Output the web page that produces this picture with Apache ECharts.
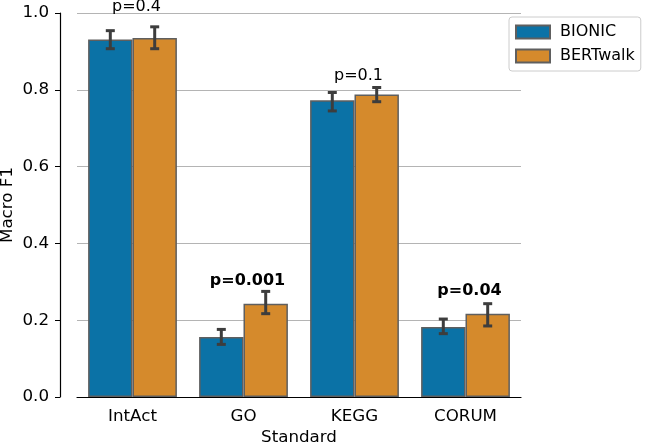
<!DOCTYPE html>
<html>
<head>
<meta charset="utf-8">
<script src="https://cdn.jsdelivr.net/npm/echarts@6/dist/echarts.min.js"></script>
<style>html,body{margin:0;padding:0;background:#fff;}#c{width:648px;height:444px;}</style>
</head>
<body>
<div id="c"></div>
<script>
const categories = ['IntAct', 'GO', 'KEGG', 'CORUM'];
const seriesNames = ['BIONIC', 'BERTwalk'];
const bionic = [0.931, 0.156, 0.773, 0.182];
const bionicLow = [0.907, 0.137, 0.745, 0.165];
const bionicHigh = [0.954, 0.176, 0.793, 0.203];
const bertwalk = [0.935, 0.243, 0.788, 0.217];
const bertwalkLow = [0.907, 0.217, 0.769, 0.185];
const bertwalkHigh = [0.964, 0.275, 0.806, 0.243];
const pLabels = ['p=0.4', 'p=0.001', 'p=0.1', 'p=0.04'];
const pBold = [false, true, false, true];
const pLabelY = [1.016, 0.302, 0.836, 0.277];
const yTicks = [0.0, 0.2, 0.4, 0.6, 0.8, 1.0];

const FONT = 'DejaVu Sans';
const FS = 16;
const AFS = 16.7;
const colors = ['#0b72a6', '#d58a2c'];

const errData = [];
categories.forEach((c, i) => {
  errData.push([i, bionicLow[i], bionicHigh[i], 0]);
  errData.push([i, bertwalkLow[i], bertwalkHigh[i], 1]);
});

function renderErr(params, api) {
  const ci = api.value(0);
  const lo = api.coord([ci, api.value(1)]);
  const hi = api.coord([ci, api.value(2)]);
  const band = api.size([1, 0])[0];
  const s = api.value(3);
  const x = lo[0] + (s === 0 ? -0.2 : 0.2) * band;
  const cap = 4.5;
  const st = { stroke: '#3d3d3d', lineWidth: 3 };
  return {
    type: 'group',
    children: [
      { type: 'line', shape: { x1: x, y1: lo[1], x2: x, y2: hi[1] }, style: st },
      { type: 'line', shape: { x1: x - cap, y1: lo[1], x2: x + cap, y2: lo[1] }, style: st },
      { type: 'line', shape: { x1: x - cap, y1: hi[1], x2: x + cap, y2: hi[1] }, style: st }
    ]
  };
}

const pData = categories.map((c, i) => [i, pLabelY[i], i]);
function renderP(params, api) {
  const i = api.value(2);
  const p = api.coord([api.value(0), api.value(1)]);
  return {
    type: 'text',
    style: {
      x: p[0] + 4, y: p[1],
      text: pLabels[i],
      font: (pBold[i] ? 'bold ' : '') + FS + 'px "' + FONT + '"',
      fill: '#000',
      align: 'center', verticalAlign: 'middle'
    }
  };
}

const chart = echarts.init(document.getElementById('c'), null, { renderer: 'canvas' });
chart.setOption({
  animation: false,
  textStyle: { fontFamily: FONT },
  grid: { left: 77, right: 127, top: 13, bottom: 47, containLabel: false, outerBoundsMode: 'none' },
  legend: {
    data: seriesNames,
    orient: 'vertical',
    left: 509, top: 17,
    icon: 'rect',
    itemWidth: 34, itemHeight: 13, itemGap: 8,
    padding: [7, 6, 7, 6],
    borderColor: '#cccccc', borderWidth: 1, borderRadius: 3,
    textStyle: { fontSize: FS, color: '#000', fontFamily: FONT, padding: [0, 0, 0, 5] }
  },
  xAxis: {
    type: 'category',
    data: categories,
    name: 'Standard',
    nameLocation: 'middle',
    nameGap: 32,
    nameMoveOverlap: false,
    nameTextStyle: { fontSize: AFS, color: '#000', fontFamily: FONT },
    axisLine: { lineStyle: { color: '#000', width: 1.2 } },
    axisTick: { alignWithLabel: true, length: 5, lineStyle: { color: '#000' } },
    axisLabel: { fontSize: AFS, color: '#000', margin: 11, fontFamily: FONT },
    splitLine: { show: false }
  },
  yAxis: {
    type: 'value',
    min: 0, max: 1, interval: 0.2,
    offset: 17,
    name: 'Macro F1',
    nameLocation: 'middle',
    nameGap: 44,
    nameMoveOverlap: false,
    nameTextStyle: { fontSize: AFS, color: '#000', fontFamily: FONT },
    axisLine: { show: true, lineStyle: { color: '#000', width: 1.2 } },
    axisTick: { show: true, length: 5, lineStyle: { color: '#000' } },
    axisLabel: { fontSize: AFS, color: '#000', margin: 11, fontFamily: FONT,
      formatter: v => yTicks.includes(Math.round(v * 10) / 10) ? v.toFixed(1) : '' },
    splitLine: { show: true, lineStyle: { color: '#b4b4b4', width: 1.2 } }
  },
  series: [
    {
      name: seriesNames[0], type: 'bar', data: bionic,
      barGap: '0%', barCategoryGap: '20%',
      itemStyle: { color: colors[0], borderColor: '#5f5f5f', borderWidth: 1.5 },
      z: 2
    },
    {
      name: seriesNames[1], type: 'bar', data: bertwalk,
      barGap: '0%', barCategoryGap: '20%',
      itemStyle: { color: colors[1], borderColor: '#5f5f5f', borderWidth: 1.5 },
      z: 2
    },
    {
      type: 'custom', renderItem: renderErr, data: errData, z: 5, clip: false,
      encode: { x: 0, y: [1, 2] }, silent: true
    },
    {
      type: 'custom', renderItem: renderP, data: pData, z: 6, clip: false,
      encode: { x: 0, y: 1 }, silent: true
    }
  ]
});
</script>
</body>
</html>
